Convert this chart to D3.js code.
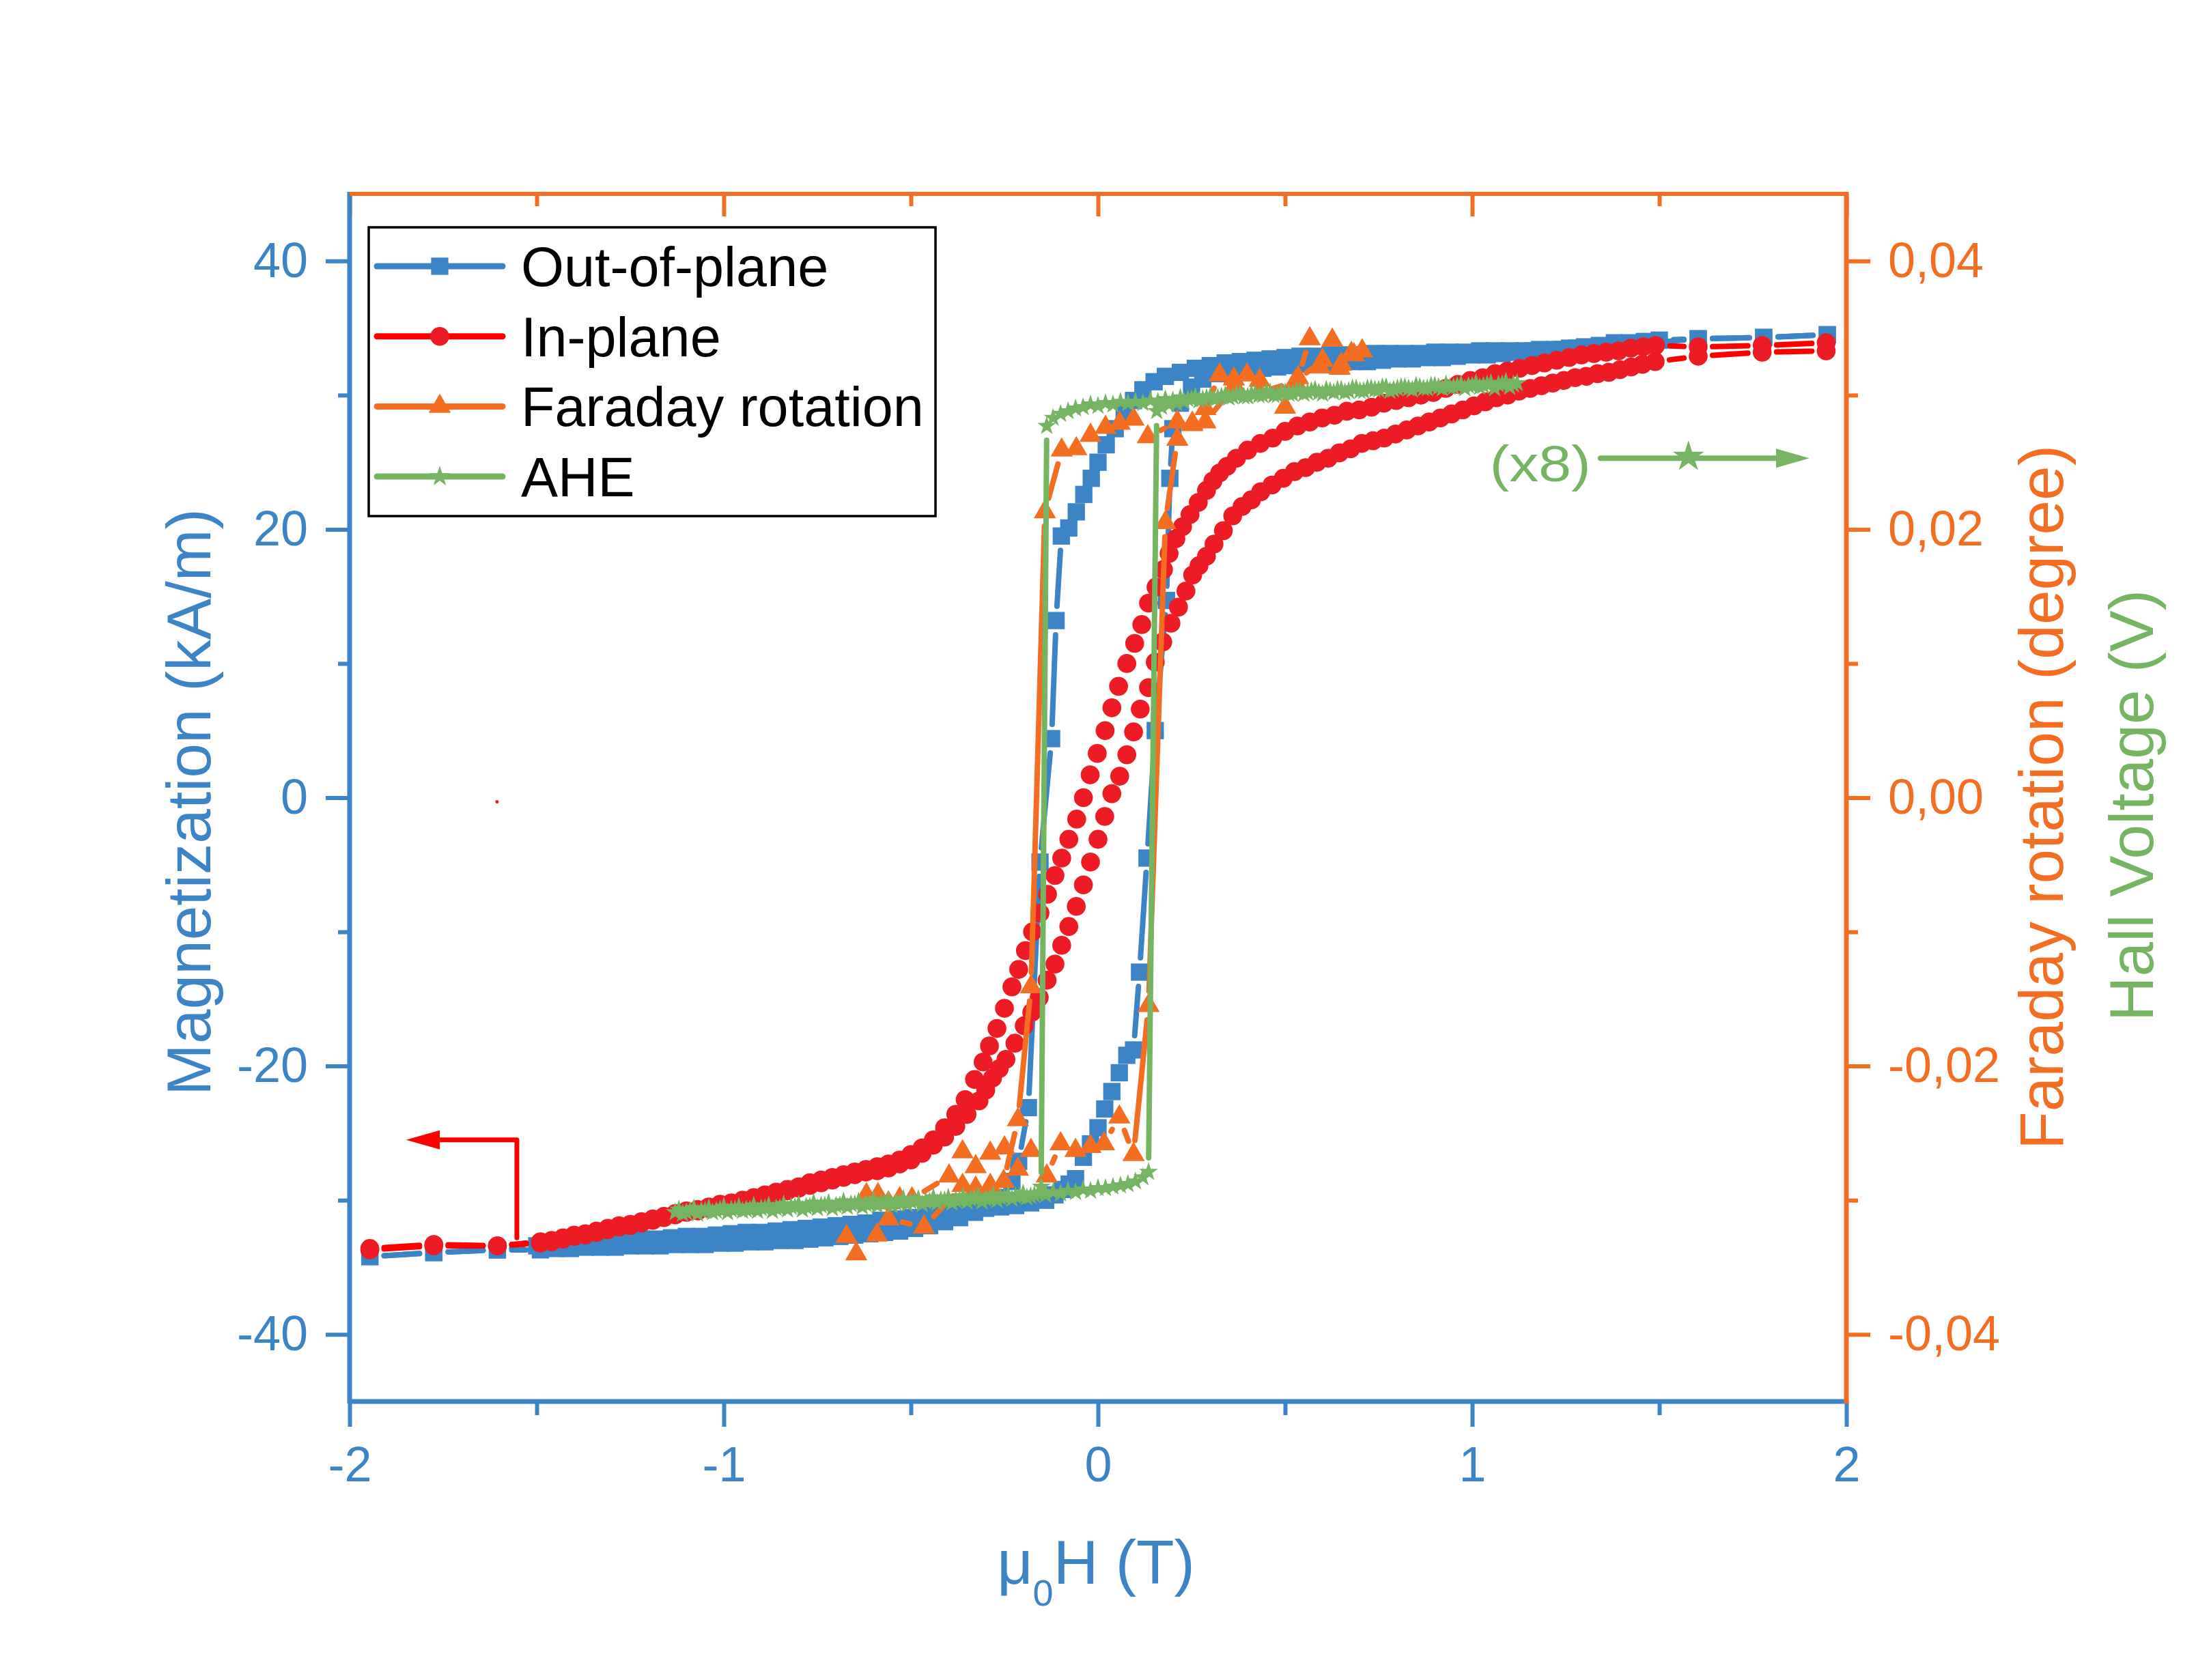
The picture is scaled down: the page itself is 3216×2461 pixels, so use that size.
<!DOCTYPE html>
<html>
<head>
<meta charset="utf-8">
<title>Hysteresis loops</title>
<script src="https://d3js.org/d3.v7.min.js"></script>
<style>
body { margin: 0; background: #fff; }
text { font-family: "Liberation Sans", Arial, sans-serif; }
</style>
</head>
<body>
<script>

// ---- data: [mu0H (T), value] ----
// Out-of-plane magnetization (kA/m), field going down then up
var oopDown = [[1.949,34.5],[1.779,34.3],[1.604,34.2],
  [1.50,34.1],[1.46,34.0],[1.42,33.9],[1.38,33.9],[1.34,33.7],[1.30,33.6],[1.26,33.5],[1.22,33.4],[1.18,33.4],[1.14,33.3],
  [1.10,33.3],[1.06,33.3],[1.02,33.3],[0.98,33.2],[0.94,33.2],[0.90,33.2],[0.86,33.1],[0.82,33.1],[0.78,33.1],[0.74,33.1],
  [0.70,33.0],[0.66,33.0],[0.62,33.0],[0.58,32.9],[0.54,32.9],[0.50,32.8],[0.46,32.7],[0.42,32.6],[0.38,32.5],[0.34,32.4],
  [0.30,32.2],[0.26,32.0],[0.22,31.7],[0.18,31.4],[0.15,31.0],[0.12,30.4],[0.095,29.6],[0.07,28.6],[0.046,27.5],[0.022,26.3],
  [0.0,25.0],[-0.018,23.8],[-0.038,22.6],[-0.058,21.3],[-0.078,20.1],[-0.098,19.5],[-0.112,13.2],[-0.124,4.4],[-0.155,-4.8],
  [-0.186,-23.1],[-0.212,-27.1],[-0.23,-28.6],[-0.26,-29.8],[-0.29,-30.4],[-0.33,-30.9],[-0.37,-31.3],[-0.41,-31.6],[-0.45,-31.9],
  [-0.49,-32.1],[-0.53,-32.3],[-0.57,-32.4],[-0.61,-32.5],[-0.65,-32.6],[-0.69,-32.7],[-0.73,-32.8],[-0.77,-32.9],[-0.81,-33.0],
  [-0.85,-33.0],[-0.89,-33.1],[-0.93,-33.1],[-0.97,-33.2],[-1.01,-33.2],[-1.05,-33.3],[-1.09,-33.3],[-1.13,-33.3],[-1.17,-33.4],
  [-1.21,-33.4],[-1.25,-33.4],[-1.29,-33.5],[-1.33,-33.5],[-1.37,-33.5],[-1.41,-33.6],[-1.45,-33.6],[-1.49,-33.7],
  [-1.605,-33.7],[-1.775,-33.9],[-1.946,-34.2]];
var oopUp = [[-1.946,-34.2],[-1.775,-33.9],[-1.605,-33.7],
  [-1.50,-33.4],[-1.46,-33.3],[-1.42,-33.3],[-1.38,-33.2],[-1.34,-33.1],[-1.30,-33.1],[-1.26,-33.0],[-1.22,-32.9],[-1.18,-32.9],
  [-1.14,-32.8],[-1.10,-32.7],[-1.06,-32.7],[-1.02,-32.6],[-0.98,-32.5],[-0.94,-32.4],[-0.90,-32.4],[-0.86,-32.3],[-0.82,-32.2],
  [-0.78,-32.1],[-0.74,-32.0],[-0.70,-31.9],[-0.66,-31.8],[-0.62,-31.7],[-0.58,-31.5],[-0.54,-31.4],[-0.50,-31.3],[-0.46,-31.1],
  [-0.42,-31.0],[-0.38,-30.8],[-0.34,-30.7],[-0.30,-30.6],[-0.26,-30.5],[-0.22,-30.4],[-0.18,-30.2],[-0.14,-30.0],[-0.115,-29.6],
  [-0.095,-29.2],[-0.077,-28.8],[-0.06,-28.4],[-0.039,-26.8],[-0.02,-25.8],[0.0,-24.6],[0.018,-23.2],[0.037,-21.9],[0.057,-20.5],
  [0.077,-19.2],[0.095,-18.8],[0.111,-13.0],[0.131,-4.5],[0.153,5.0],[0.183,14.7],[0.192,23.8],[0.20,27.5],[0.22,29.4],
  [0.25,30.6],[0.28,31.2],[0.32,31.6],[0.36,31.8],[0.40,31.9],[0.44,32.0],[0.48,32.1],[0.52,32.2],[0.56,32.3],[0.60,32.3],
  [0.64,32.4],[0.68,32.5],[0.72,32.5],[0.76,32.6],[0.80,32.7],[0.84,32.7],[0.88,32.8],[0.92,32.8],[0.96,32.9],[1.00,33.0],
  [1.04,33.0],[1.08,33.1],[1.12,33.2],[1.16,33.3],[1.20,33.3],[1.24,33.4],[1.28,33.5],[1.32,33.5],[1.36,33.6],[1.40,33.7],
  [1.44,33.8],[1.48,33.9],[1.604,34.2],[1.779,34.3],[1.949,34.5]];

// In-plane magnetization (kA/m)
var ipDown = [[1.946,33.9],[1.775,33.7],[1.604,33.6],
  [1.49,33.7],[1.457,33.6],[1.424,33.5],[1.391,33.3],[1.358,33.2],[1.325,33.1],[1.292,33.0],[1.259,32.8],[1.226,32.6],
  [1.193,32.4],[1.16,32.2],[1.127,32.0],[1.094,31.8],[1.061,31.6],[1.028,31.3],[0.995,31.1],[0.962,30.8],[0.929,30.5],
  [0.896,30.2],[0.863,30.0],[0.83,29.8],[0.797,29.6],[0.764,29.4],[0.731,29.1],[0.698,28.9],[0.665,28.8],[0.632,28.5],
  [0.599,28.3],[0.566,28.0],[0.533,27.7],[0.50,27.3],[0.467,26.8],[0.434,26.4],[0.40,25.9],[0.37,25.3],[0.345,24.7],
  [0.325,24.2],[0.307,23.6],[0.29,22.9],[0.268,22.0],[0.246,21.1],[0.226,20.2],[0.208,19.3],[0.19,18.2],[0.175,17.0],
  [0.155,15.7],[0.135,14.5],[0.117,12.9],[0.098,11.5],[0.077,10.0],[0.055,8.3],[0.037,6.7],[0.019,5.0],[-0.002,3.3],[-0.021,1.7],
  [-0.039,0.0],[-0.057,-1.6],[-0.078,-3.1],[-0.097,-4.5],[-0.115,-5.8],[-0.135,-7.2],[-0.155,-8.6],[-0.175,-10.0],[-0.194,-11.4],
  [-0.212,-12.8],[-0.23,-14.1],[-0.25,-15.7],[-0.27,-17.2],[-0.29,-18.5],[-0.307,-19.7],[-0.33,-21.0],[-0.355,-22.5],
  [-0.38,-23.6],[-0.41,-24.6],[-0.44,-25.5],[-0.47,-26.1],[-0.50,-26.6],[-0.53,-27.0],[-0.56,-27.3],[-0.59,-27.5],[-0.62,-27.7],
  [-0.65,-27.9],[-0.68,-28.1],[-0.71,-28.3],[-0.74,-28.5],[-0.77,-28.7],[-0.80,-29.0],[-0.83,-29.2],[-0.86,-29.4],[-0.89,-29.6],
  [-0.92,-29.8],[-0.95,-30.0],[-0.98,-30.2],[-1.01,-30.3],[-1.04,-30.5],[-1.07,-30.7],[-1.10,-30.8],[-1.13,-31.0],[-1.16,-31.2],
  [-1.19,-31.4],[-1.22,-31.6],[-1.25,-31.8],[-1.28,-31.9],[-1.31,-32.1],[-1.34,-32.3],[-1.37,-32.5],[-1.40,-32.6],[-1.43,-32.8],
  [-1.46,-33.0],[-1.49,-33.1],[-1.605,-33.4],[-1.775,-33.3],[-1.946,-33.6]];
var ipUp = [[-1.946,-33.7],[-1.775,-33.4],[-1.605,-33.4],
  [-1.49,-33.2],[-1.46,-33.1],[-1.43,-32.9],[-1.40,-32.7],[-1.37,-32.6],[-1.34,-32.4],[-1.31,-32.2],[-1.28,-32.0],[-1.25,-31.9],
  [-1.22,-31.7],[-1.19,-31.5],[-1.16,-31.3],[-1.13,-31.1],[-1.10,-30.9],[-1.07,-30.8],[-1.04,-30.6],[-1.01,-30.4],[-0.98,-30.3],
  [-0.95,-30.1],[-0.92,-29.9],[-0.89,-29.7],[-0.86,-29.5],[-0.83,-29.3],[-0.80,-29.1],[-0.77,-28.9],[-0.74,-28.7],[-0.71,-28.5],
  [-0.68,-28.3],[-0.65,-28.1],[-0.62,-27.9],[-0.59,-27.8],[-0.56,-27.6],[-0.53,-27.3],[-0.50,-27.0],[-0.47,-26.5],[-0.44,-25.9],
  [-0.41,-25.3],[-0.38,-24.5],[-0.35,-23.6],[-0.318,-22.6],[-0.30,-21.8],[-0.282,-20.9],[-0.264,-20.2],[-0.246,-19.5],
  [-0.222,-18.3],[-0.197,-17.0],[-0.177,-16.0],[-0.157,-14.9],[-0.136,-13.6],[-0.115,-12.4],[-0.097,-11.0],[-0.078,-9.6],
  [-0.058,-8.1],[-0.039,-6.5],[-0.02,-4.8],[0.0,-3.1],[0.018,-1.4],[0.037,0.3],[0.058,1.6],[0.077,3.2],[0.095,4.9],[0.113,6.6],
  [0.135,8.2],[0.153,10.1],[0.173,11.6],[0.195,13.0],[0.215,14.2],[0.235,15.4],[0.253,16.6],[0.27,17.3],[0.29,18.0],[0.31,18.9],
  [0.335,19.9],[0.36,21.0],[0.385,21.7],[0.41,22.2],[0.435,22.8],[0.465,23.3],[0.495,23.8],[0.525,24.3],[0.555,24.6],
  [0.585,25.0],[0.615,25.3],[0.645,25.7],[0.675,26.0],[0.705,26.4],[0.735,26.6],[0.765,26.8],[0.795,27.1],[0.825,27.4],
  [0.855,27.7],[0.885,28.0],[0.915,28.3],[0.945,28.6],[0.975,28.9],[1.005,29.2],[1.035,29.5],[1.065,29.8],[1.095,30.0],
  [1.125,30.3],[1.155,30.5],[1.185,30.7],[1.215,30.9],[1.245,31.1],[1.275,31.3],[1.305,31.4],[1.335,31.6],[1.365,31.7],
  [1.395,31.9],[1.425,32.1],[1.455,32.3],[1.489,32.5],[1.604,32.9],[1.775,33.2],[1.946,33.3]];
var ipStray = [[-1.606,-0.3]];

// Faraday rotation (degree)
var farDown = [[0.706,0.0333],[0.677,0.0331],[0.646,0.0320],[0.626,0.0341],[0.593,0.0321],[0.566,0.0342],[0.535,0.0313],
  [0.500,0.0291],[0.432,0.0311],[0.398,0.0315],[0.363,0.0312],[0.325,0.0315],[0.287,0.0290],[0.252,0.0279],[0.212,0.0280],
  [0.133,0.0269],[0.095,0.0282],[0.058,0.0279],[0.020,0.0276],[-0.020,0.0270],[-0.058,0.0260],[-0.097,0.0259],[-0.142,0.0213],
  [-0.179,-0.0141],[-0.214,-0.0240],[-0.252,-0.0286],[-0.288,-0.0289],[-0.327,-0.0291],[-0.362,-0.0289],[-0.465,-0.0320],
  [-0.560,-0.0314],[-0.591,-0.0326],[-0.646,-0.0340],[-0.672,-0.0327]];
var farUp = [[-0.619,-0.0296],[-0.588,-0.0296],[-0.560,-0.0302],[-0.530,-0.0299],[-0.497,-0.0299],[-0.398,-0.0282],
  [-0.362,-0.0264],[-0.327,-0.0275],[-0.288,-0.0265],[-0.250,-0.0261],[-0.214,-0.0277],[-0.179,-0.0263],[-0.137,-0.0282],
  [-0.100,-0.0258],[-0.060,-0.0263],[-0.020,-0.0260],[0.016,-0.0258],[0.057,-0.0238],[0.095,-0.0266],[0.135,-0.0155],
  [0.180,0.0205],[0.212,0.0267],[0.252,0.0278],[0.287,0.0280],[0.365,0.0307],[0.432,0.0302],[0.527,0.0310],[0.600,0.0326],
  [0.650,0.0323],[0.684,0.0330]];

// AHE Hall voltage (V), shown x8
var aheDown = [[1.12,0.0309],[1.10,0.0306],[1.08,0.0308],[1.06,0.0305],[1.04,0.0308],[1.02,0.0306],[1.00,0.0307],[0.98,0.0305],
  [0.96,0.0307],[0.94,0.0306],[0.92,0.0305],[0.90,0.0307],[0.88,0.0305],[0.86,0.0306],[0.84,0.0304],[0.82,0.0306],[0.80,0.0305],
  [0.78,0.0303],[0.76,0.0306],[0.74,0.0304],[0.72,0.0305],[0.70,0.0303],[0.68,0.0305],[0.66,0.0302],[0.64,0.0304],[0.62,0.0303],
  [0.60,0.0301],[0.58,0.0304],[0.56,0.0302],[0.54,0.0303],[0.52,0.0301],[0.50,0.0302],[0.48,0.0300],[0.46,0.0302],[0.44,0.0300],
  [0.42,0.0301],[0.40,0.0299],[0.38,0.0301],[0.36,0.0299],[0.34,0.0300],[0.32,0.0298],[0.30,0.0299],[0.28,0.0297],[0.26,0.0299],
  [0.24,0.0297],[0.22,0.0298],[0.20,0.0296],[0.18,0.0297],[0.16,0.0295],[0.14,0.0296],[0.12,0.0294],[0.10,0.0295],[0.08,0.0294],
  [0.06,0.0295],[0.04,0.0293],[0.02,0.0294],[0.00,0.0292],[-0.02,0.0293],[-0.04,0.0291],[-0.06,0.0290],[-0.08,0.0288],
  [-0.10,0.0286],[-0.12,0.0283],[-0.137,0.0277],
  [-0.152,-0.0290],[-0.17,-0.0296],[-0.19,-0.0298],[-0.21,-0.0297],[-0.23,-0.0299],[-0.25,-0.0298],[-0.27,-0.0300],
  [-0.29,-0.0299],[-0.31,-0.0301],[-0.33,-0.0299],[-0.35,-0.0301],[-0.37,-0.0300],[-0.39,-0.0302],[-0.41,-0.0300],
  [-0.43,-0.0302],[-0.45,-0.0301],[-0.47,-0.0303],[-0.49,-0.0301],[-0.51,-0.0303],[-0.53,-0.0302],[-0.55,-0.0304],
  [-0.57,-0.0302],[-0.59,-0.0304],[-0.61,-0.0303],[-0.63,-0.0305],[-0.65,-0.0303],[-0.67,-0.0305],[-0.69,-0.0304],
  [-0.71,-0.0306],[-0.73,-0.0304],[-0.75,-0.0306],[-0.77,-0.0305],[-0.79,-0.0307],[-0.81,-0.0305],[-0.83,-0.0307],
  [-0.85,-0.0306],[-0.87,-0.0308],[-0.89,-0.0306],[-0.91,-0.0308],[-0.93,-0.0307],[-0.95,-0.0308],[-0.97,-0.0307],
  [-0.99,-0.0309],[-1.01,-0.0307],[-1.03,-0.0309],[-1.05,-0.0308],[-1.07,-0.0310],[-1.09,-0.0308],[-1.11,-0.0310],[-1.13,-0.0309]];
var aheUp = [[-1.12,-0.0307],[-1.10,-0.0309],[-1.08,-0.0306],[-1.06,-0.0308],[-1.04,-0.0306],[-1.02,-0.0308],[-1.00,-0.0305],
  [-0.98,-0.0307],[-0.96,-0.0305],[-0.94,-0.0307],[-0.92,-0.0304],[-0.90,-0.0306],[-0.88,-0.0304],[-0.86,-0.0306],[-0.84,-0.0303],
  [-0.82,-0.0305],[-0.80,-0.0303],[-0.78,-0.0305],[-0.76,-0.0302],[-0.74,-0.0304],[-0.72,-0.0302],[-0.70,-0.0304],[-0.68,-0.0301],
  [-0.66,-0.0303],[-0.64,-0.0301],[-0.62,-0.0303],[-0.60,-0.0300],[-0.58,-0.0302],[-0.56,-0.0300],[-0.54,-0.0302],[-0.52,-0.0299],
  [-0.50,-0.0301],[-0.48,-0.0299],[-0.46,-0.0301],[-0.44,-0.0298],[-0.42,-0.0300],[-0.40,-0.0298],[-0.38,-0.0300],[-0.36,-0.0297],
  [-0.34,-0.0299],[-0.32,-0.0297],[-0.30,-0.0299],[-0.28,-0.0296],[-0.26,-0.0298],[-0.24,-0.0296],[-0.22,-0.0297],[-0.20,-0.0295],
  [-0.18,-0.0297],[-0.16,-0.0295],[-0.14,-0.0296],[-0.12,-0.0294],[-0.10,-0.0295],[-0.08,-0.0293],[-0.06,-0.0294],[-0.04,-0.0292],
  [-0.02,-0.0293],[0.00,-0.0291],[0.02,-0.0291],[0.04,-0.0290],[0.06,-0.0289],[0.08,-0.0288],[0.10,-0.0286],[0.12,-0.0283],
  [0.135,-0.0279],
  [0.157,0.0288],[0.17,0.0291],[0.19,0.0293],[0.21,0.0294],[0.23,0.0295],[0.25,0.0297],[0.27,0.0296],[0.29,0.0298],[0.31,0.0297],
  [0.33,0.0299],[0.35,0.0298],[0.37,0.0300],[0.39,0.0299],[0.41,0.0301],[0.43,0.0300],[0.45,0.0302],[0.47,0.0300],[0.49,0.0302],
  [0.51,0.0301],[0.53,0.0303],[0.55,0.0301],[0.57,0.0303],[0.59,0.0302],[0.61,0.0304],[0.63,0.0302],[0.65,0.0304],[0.67,0.0303],
  [0.69,0.0305],[0.71,0.0303],[0.73,0.0305],[0.75,0.0304],[0.77,0.0306],[0.79,0.0304],[0.81,0.0306],[0.83,0.0305],[0.85,0.0307],
  [0.87,0.0305],[0.89,0.0307],[0.91,0.0306],[0.93,0.0308],[0.95,0.0306],[0.97,0.0308],[0.99,0.0307],[1.01,0.0309],[1.03,0.0307],
  [1.05,0.0309],[1.07,0.0308],[1.09,0.0310],[1.11,0.0308]];

// ticks
var xMajor = [-2,-1,0,1,2], xMinor = [-1.5,-0.5,0.5,1.5];
var mMajor = [-40,-20,0,20,40], mMinor = [-30,-10,10,30];
var rMajor = [-0.04,-0.02,0,0.02,0.04], rMinor = [-0.03,-0.01,0.01,0.03];
var legendNames = ["Out-of-plane","In-plane","Faraday rotation","AHE"];

// ---- drawing ----
var width = 3216, height = 2461;
var blue = "#3B85C6", orange = "#F36E21", red = "#ED1C24", redLine = "#FF0000", green = "#75B562";

var svg = d3.select("body").append("svg").attr("width",width).attr("height",height).style("background","white");

var x = d3.scaleLinear().domain([-2,2]).range([512,2704]);
var yL = d3.scaleLinear().domain([-45,45]).range([2053,284]);
var yR = d3.scaleLinear().domain([-0.045,0.045]).range([2053,284]);

var sq = d3.symbol().type(d3.symbolSquare).size(640),
    ci = d3.symbol().type(d3.symbolCircle).size(600),
    tri = d3.symbol().type(d3.symbolTriangle).size(460),
    star = d3.symbol().type(d3.symbolStar).size(240);

// line with gaps round each symbol, then the symbols (Origin style)
function drawSeries(data, ys, sym, fill, lineColor) {
  var grp = svg.append("g");
  var gap = 21, segs = [];
  for (var i = 1; i < data.length; i++) {
    var ax = x(data[i-1][0]), ay = ys(data[i-1][1]), bx = x(data[i][0]), by = ys(data[i][1]);
    var dx = bx-ax, dy = by-ay, len = Math.sqrt(dx*dx+dy*dy);
    if (len > 2*gap + 2) segs.push([ax+dx/len*gap, ay+dy/len*gap, bx-dx/len*gap, by-dy/len*gap]);
  }
  grp.selectAll("line").data(segs).enter().append("line")
    .attr("x1",function(d){return d[0];}).attr("y1",function(d){return d[1];})
    .attr("x2",function(d){return d[2];}).attr("y2",function(d){return d[3];})
    .attr("stroke",lineColor).attr("stroke-width",8).attr("stroke-linecap","round");
  grp.selectAll("path").data(data).enter().append("path")
    .attr("transform",function(d){return "translate("+x(d[0])+","+ys(d[1])+")";})
    .attr("d",sym).attr("fill",fill);
}

drawSeries(oopDown, yL, sq, blue, blue);
drawSeries(oopUp, yL, sq, blue, blue);
drawSeries(ipDown, yL, ci, red, redLine);
drawSeries(ipUp, yL, ci, red, redLine);
svg.selectAll("circle.stray").data(ipStray).enter().append("circle").attr("class","stray")
  .attr("cx",function(d){return x(d[0]);}).attr("cy",function(d){return yL(d[1]);}).attr("r",2.5).attr("fill",red);
drawSeries(farDown, yR, tri, orange, orange);
drawSeries(farUp, yR, tri, orange, orange);
drawSeries(aheDown, yR, star, green, green);
drawSeries(aheUp, yR, star, green, green);

// ---- axes ----
function styleAxis(g, color, fs) {
  g.select(".domain").remove();
  g.selectAll(".tick line").attr("stroke",color).attr("stroke-width",6);
  g.selectAll(".tick text").attr("fill",color).style("font-size",fs+"px")
    .style("font-family","'Liberation Sans', Arial, sans-serif");
}
var bAx = svg.append("g").attr("transform","translate(0,2053)")
  .call(d3.axisBottom(x).tickValues(xMajor).tickSize(37).tickPadding(29).tickFormat(function(d){return String(d);}));
styleAxis(bAx, blue, 72);
var bMin = svg.append("g").attr("transform","translate(0,2053)")
  .call(d3.axisBottom(x).tickValues(xMinor).tickSize(20).tickFormat(""));
styleAxis(bMin, blue, 72);

var tAx = svg.append("g").attr("transform","translate(0,284)")
  .call(d3.axisTop(x).tickValues(xMajor).tickSize(-33).tickFormat(""));
styleAxis(tAx, orange, 72);
var tMin = svg.append("g").attr("transform","translate(0,284)")
  .call(d3.axisTop(x).tickValues(xMinor).tickSize(-18).tickFormat(""));
styleAxis(tMin, orange, 72);

var lAx = svg.append("g").attr("transform","translate(512,0)")
  .call(d3.axisLeft(yL).tickValues(mMajor).tickSize(35).tickPadding(26).tickFormat(function(d){return String(d);}));
styleAxis(lAx, blue, 72);
var lMin = svg.append("g").attr("transform","translate(512,0)")
  .call(d3.axisLeft(yL).tickValues(mMinor).tickSize(17).tickFormat(""));
styleAxis(lMin, blue, 72);

var rAx = svg.append("g").attr("transform","translate(2704,0)")
  .call(d3.axisRight(yR).tickValues(rMajor).tickSize(35).tickPadding(26)
    .tickFormat(function(d){ return (d < 0 ? "-" : "") + Math.abs(d).toFixed(2).replace(".", ","); }));
styleAxis(rAx, orange, 72);
var rMin = svg.append("g").attr("transform","translate(2704,0)")
  .call(d3.axisRight(yR).tickValues(rMinor).tickSize(17).tickFormat(""));
styleAxis(rMin, orange, 72);

// frame lines
svg.append("line").attr("x1",x(-2)).attr("x2",x(2)).attr("y1",yL(-45)).attr("y2",yL(-45)).attr("stroke",blue).attr("stroke-width",7);
svg.append("line").attr("x1",x(-2)).attr("x2",x(-2)).attr("y1",yL(-45)+3).attr("y2",yL(45)-3).attr("stroke",blue).attr("stroke-width",7);
svg.append("line").attr("x1",x(-2)).attr("x2",x(2)).attr("y1",yL(45)).attr("y2",yL(45)).attr("stroke",orange).attr("stroke-width",6);
svg.append("line").attr("x1",x(2)).attr("x2",x(2)).attr("y1",yL(-45)+3).attr("y2",yL(45)-3).attr("stroke",orange).attr("stroke-width",7);

// axis titles
var xt = svg.append("text").attr("x",1605).attr("y",2320).attr("text-anchor","middle")
  .attr("fill",blue).style("font-size","91px");
xt.append("tspan").text("\u03bc");
xt.append("tspan").attr("dy",32).style("font-size","54px").text("0");
xt.append("tspan").attr("dy",-32).text("H (T)");

svg.append("text").attr("transform","translate(308,1175) rotate(-90)").attr("text-anchor","middle")
  .attr("fill",blue).style("font-size","91px").text("Magnetization (kA/m)");
svg.append("text").attr("transform","translate(3021,1168) rotate(-90)").attr("text-anchor","middle")
  .attr("fill",orange).style("font-size","91px").text("Faraday rotation (degree)");
svg.append("text").attr("transform","translate(3153,1180) rotate(-90)").attr("text-anchor","middle")
  .attr("fill",green).style("font-size","91px").text("Hall Voltage (V)");

// ---- annotations ----
// red arrow pointing to the left axis
svg.append("path")
  .attr("d","M"+x(-1.553)+","+yL(-32.8)+" L"+x(-1.553)+","+yL(-25.5)+" L"+x(-1.759)+","+yL(-25.5))
  .attr("fill","none").attr("stroke",redLine).attr("stroke-width",7).attr("stroke-linejoin","round").attr("stroke-linecap","round");
svg.append("path")
  .attr("d","M"+x(-1.849)+","+yL(-25.5)+" L"+x(-1.759)+","+(yL(-25.5)-14)+" L"+x(-1.759)+","+(yL(-25.5)+14)+" Z")
  .attr("fill",redLine);

// green (x8) arrow pointing to the right axis
svg.append("text").attr("x",x(1.047)).attr("y",yL(23.6)).attr("fill",green).style("font-size","74px")
  .attr("textLength",148).attr("lengthAdjust","spacingAndGlyphs").text("(x8)");
svg.append("line").attr("x1",x(1.343)).attr("x2",x(1.812)).attr("y1",yL(25.3)).attr("y2",yL(25.3))
  .attr("stroke",green).attr("stroke-width",8).attr("stroke-linecap","round");
svg.append("path")
  .attr("d","M"+x(1.901)+","+yL(25.3)+" L"+x(1.812)+","+(yL(25.3)-14)+" L"+x(1.812)+","+(yL(25.3)+14)+" Z")
  .attr("fill",green);
svg.append("path").attr("transform","translate("+x(1.578)+","+(yL(25.3)-2)+")")
  .attr("d",d3.symbol().type(d3.symbolStar).size(640)).attr("fill",green);

// ---- legend ----
var leg = svg.append("g");
leg.append("rect").attr("x",540).attr("y",333).attr("width",830).attr("height",423)
  .attr("fill","white").attr("stroke","black").attr("stroke-width",3.5);
var legSyms = [sq, ci, tri, star], legCols = [blue, red, orange, green], legLines = [blue, redLine, orange, green];
var rows = leg.selectAll("g.row").data(legendNames).enter().append("g").attr("class","row")
  .attr("transform",function(d,i){return "translate(0,"+(390+i*102.7)+")";});
rows.append("line").attr("x1",552).attr("x2",736).attr("y1",0).attr("y2",0)
  .attr("stroke",function(d,i){return legLines[i];}).attr("stroke-width",9).attr("stroke-linecap","round");
rows.append("path").attr("transform","translate(644,0)")
  .attr("d",function(d,i){return i===3 ? d3.symbol().type(d3.symbolStar).size(280)() : legSyms[i]();})
  .attr("fill",function(d,i){return legCols[i];});
rows.append("text").attr("x",763).attr("y",29).attr("fill","black").style("font-size","81px").text(function(d){return d;});

</script>
</body>
</html>
